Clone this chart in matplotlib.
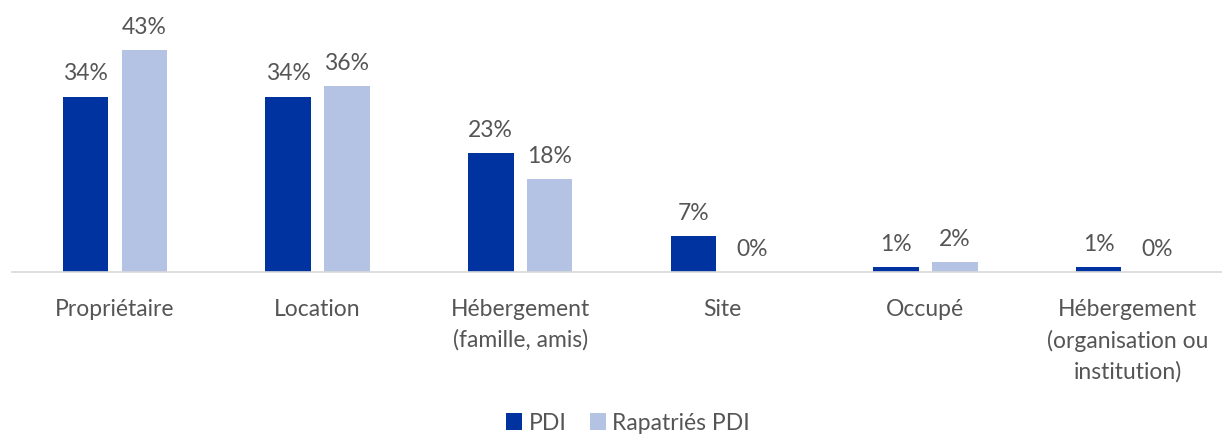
import matplotlib
matplotlib.use("Agg")
import matplotlib.pyplot as plt
import numpy as np

categories = ["Propriétaire", "Location", "Hébergement\n(famille, amis)", "Site", "Occupé",
              "Hébergement\n(organisation ou\ninstitution)"]
pdi = [34, 34, 23, 7, 1, 1]
rapatries = [43, 36, 18, 0, 2, 0]
series_names = ["PDI", "Rapatriés PDI"]

plt.rcParams['font.family'] = ['Lato', 'DejaVu Sans']
TXT = "#555555"
C1 = "#0033A0"
C2 = "#B4C3E4"
FS = 16.5

fig = plt.figure(figsize=(12.22, 4.35), dpi=100)
ax = fig.add_axes([12/1222, (435-273)/435, 1210/1222, 273/435])

x = np.arange(len(categories))
w = 0.225
off = 0.145
b1 = ax.bar(x - off, pdi, w, color=C1, label=series_names[0])
b2 = ax.bar(x + off, rapatries, w, color=C2, label=series_names[1])

for bars, vals in ((b1, pdi), (b2, rapatries)):
    for r, v in zip(bars, vals):
        ax.annotate(f"{v}%", (r.get_x() + r.get_width()/2, v), xytext=(0, 17),
                    textcoords="offset points", ha="center", va="center",
                    fontsize=FS, color=TXT)

ax.set_xlim(-0.508, 5.464)
ax.set_ylim(0, 52.9)
ax.set_yticks([])
ax.set_xticks(x)
ax.set_xticklabels(categories, fontsize=FS, color=TXT, linespacing=1.52, va="top")
ax.tick_params(axis="x", length=0, pad=19)
for s in ["top", "right", "left"]:
    ax.spines[s].set_visible(False)
ax.spines["bottom"].set_color("#D9D9D9")
ax.spines["bottom"].set_linewidth(1.2)

leg = fig.legend(handles=[b1, b2], loc="center", bbox_to_anchor=(628/1222, 1 - 424/435),
                 ncol=2, frameon=False, handlelength=0.7, handleheight=0.7,
                 handletextpad=0.3, columnspacing=1.0,
                 prop={"size": FS})
for t in leg.get_texts():
    t.set_color(TXT)

fig.savefig("out.png", dpi=100)
